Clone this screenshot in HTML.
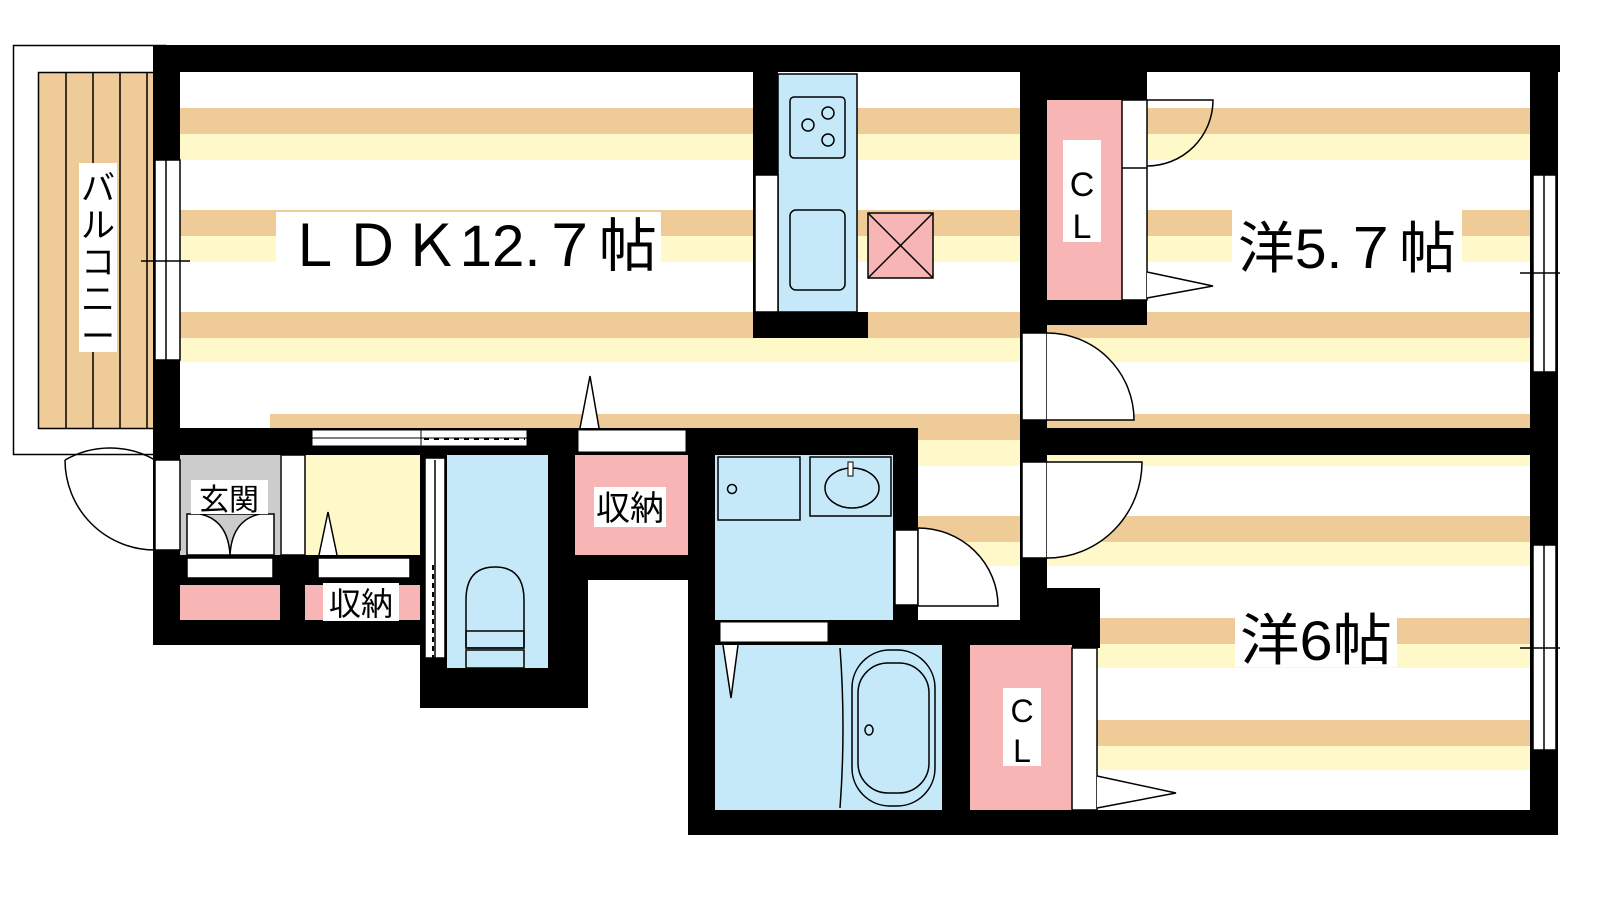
<!DOCTYPE html>
<html><head><meta charset="utf-8"><style>
html,body{margin:0;padding:0;background:#fff;}
svg{display:block}
text{font-family:"Liberation Sans","Noto Sans CJK JP",sans-serif;}
</style></head><body>
<svg width="1600" height="900" viewBox="0 0 1600 900" xmlns="http://www.w3.org/2000/svg">
<rect width="1600" height="900" fill="#fff"/>
<!-- stripes -->
<g>
<rect x="180" y="108" width="1350" height="26" fill="#EFCB97"/><rect x="180" y="134" width="1350" height="26" fill="#FFF8C8"/>
<rect x="180" y="210" width="1350" height="26" fill="#EFCB97"/><rect x="180" y="236" width="1350" height="26" fill="#FFF8C8"/>
<rect x="180" y="312" width="1350" height="26" fill="#EFCB97"/><rect x="180" y="338" width="1350" height="24" fill="#FFF8C8"/>
<rect x="270" y="414" width="1260" height="26" fill="#EFCB97"/>
<rect x="918" y="440" width="612" height="26" fill="#FFF8C8"/>
<rect x="918" y="516" width="612" height="26" fill="#EFCB97"/><rect x="918" y="542" width="612" height="24" fill="#FFF8C8"/>
<rect x="1097" y="618" width="433" height="26" fill="#EFCB97"/><rect x="1097" y="644" width="433" height="24" fill="#FFF8C8"/>
<rect x="1097" y="720" width="433" height="26" fill="#EFCB97"/><rect x="1097" y="746" width="433" height="24" fill="#FFF8C8"/>
</g>
<!-- balcony -->
<rect x="13.5" y="45.5" width="152" height="409" fill="#fff" stroke="#000" stroke-width="1.5"/>
<rect x="38.5" y="72.5" width="118" height="356" fill="#EFCB97" stroke="#000" stroke-width="1.5"/>
<g stroke="#000" stroke-width="1.5"><line x1="66" y1="72" x2="66" y2="428"/><line x1="93" y1="72" x2="93" y2="428"/><line x1="120" y1="72" x2="120" y2="428"/><line x1="147" y1="72" x2="147" y2="428"/></g>
<rect x="79" y="163" width="38" height="189" fill="#fff"/>
<text x="98" y="200" font-size="34" text-anchor="middle">バ</text>
<text x="98" y="237" font-size="34" text-anchor="middle">ル</text>
<text x="98" y="274" font-size="34" text-anchor="middle">コ</text>
<text x="98" y="311" font-size="34" text-anchor="middle">ニ</text>
<text x="98" y="348" font-size="34" text-anchor="middle">ー</text>
<!-- outer walls -->
<g fill="#000">
<rect x="153" y="45" width="1407" height="27"/>
<rect x="1530" y="45" width="28" height="790"/>
<rect x="153" y="45" width="27" height="600"/>
<rect x="153" y="428" width="765" height="27"/>
<rect x="1020" y="72" width="127" height="28"/>
<rect x="1020" y="72" width="27" height="553"/>
<rect x="1020" y="300" width="127" height="25"/>
<rect x="1020" y="428" width="538" height="27"/>
<rect x="1020" y="588" width="80" height="37"/>
<rect x="918" y="620" width="182" height="28"/>
<rect x="688" y="810" width="870" height="25"/>
<rect x="688" y="428" width="27" height="407"/>
<rect x="893" y="428" width="25" height="192"/>
<rect x="715" y="620" width="255" height="25"/>
<rect x="942" y="620" width="28" height="215"/>
<rect x="153" y="555" width="267" height="90"/>
<rect x="420" y="455" width="155" height="253"/>
<rect x="548" y="428" width="40" height="280"/>
<rect x="575" y="428" width="113" height="152"/>
<rect x="753" y="72" width="25" height="266"/>
<rect x="753" y="312" width="115" height="26"/>
</g>
<!-- LDK window left -->
<rect x="155" y="160" width="25" height="200" fill="#fff" stroke="#000" stroke-width="1.5"/>
<line x1="166" y1="160" x2="166" y2="360" stroke="#000" stroke-width="1.5"/>
<line x1="141" y1="261" x2="190" y2="261" stroke="#000" stroke-width="1.5"/>
<!-- LDK label -->
<rect x="276" y="212" width="385" height="62" fill="#fff"/>
<text x="285" y="266" font-size="58" textLength="372" lengthAdjust="spacingAndGlyphs">ＬＤＫ12.７帖</text>
<!-- kitchen -->
<rect x="778" y="74" width="79" height="238" fill="#C5E9F8" stroke="#000" stroke-width="1.5"/>
<rect x="755" y="175" width="23" height="137" fill="#fff" stroke="#000" stroke-width="1.5"/>
<rect x="790" y="97" width="55" height="61" rx="4" fill="none" stroke="#000" stroke-width="1.5"/>
<g fill="none" stroke="#000" stroke-width="1.5"><circle cx="808" cy="125" r="6"/><circle cx="828" cy="113" r="6"/><circle cx="828" cy="140" r="6"/></g>
<rect x="790" y="210" width="55" height="80" rx="6" fill="none" stroke="#000" stroke-width="1.5"/>
<rect x="868" y="213" width="65" height="65" fill="#F8B5B5" stroke="#000" stroke-width="1.5"/>
<path d="M868 213L933 278M933 213L868 278" stroke="#000" stroke-width="1.5"/>
<!-- sliding doors LDK bottom -->
<rect x="312" y="430" width="215" height="16" fill="#fff" stroke="#000" stroke-width="1"/>
<line x1="312" y1="438" x2="527" y2="438" stroke="#000"/>
<line x1="421" y1="430" x2="421" y2="446" stroke="#000"/>
<line x1="424" y1="439" x2="525" y2="439" stroke="#000" stroke-width="2" stroke-dasharray="5,5"/>
<rect x="578" y="430" width="108" height="22" fill="#fff" stroke="#000" stroke-width="1"/>
<path d="M580 428L590 376L599 428" fill="#fff" stroke="#000" stroke-width="1.5"/>
<!-- entrance -->
<rect x="180" y="455" width="100" height="100" fill="#ccc"/>
<rect x="180" y="455" width="100" height="100" fill="#ccc"/>
<rect x="305" y="455" width="115" height="100" fill="#FFF8C8"/>
<rect x="281" y="455" width="24" height="100" fill="#fff" stroke="#000" stroke-width="1.5"/>
<rect x="187" y="514" width="87" height="41" fill="#fff" stroke="#000" stroke-width="1.5"/>
<path d="M200 514Q228 520 230 555Q232 520 260 514Z" fill="#ccc" stroke="#000" stroke-width="1.5"/>
<rect x="191" y="480" width="77" height="34" fill="#fff"/>
<text x="229" y="510" font-size="30" text-anchor="middle">玄関</text>
<rect x="187" y="558" width="86" height="20" fill="#fff" stroke="#000" stroke-width="1.5"/>
<rect x="180" y="585" width="100" height="35" fill="#F8B5B5"/>
<rect x="318" y="558" width="92" height="20" fill="#fff" stroke="#000" stroke-width="1.5"/>
<path d="M319 555L328 512L337 555" fill="#fff" stroke="#000" stroke-width="1.5"/>
<rect x="305" y="585" width="115" height="35" fill="#F8B5B5"/>
<rect x="323" y="583" width="76" height="38" fill="#fff"/>
<text x="361" y="615" font-size="32" text-anchor="middle">収納</text>
<!-- entrance door -->
<rect x="155" y="460" width="25" height="90" fill="#fff" stroke="#000" stroke-width="1.5"/>
<path d="M155 460A90 90 0 0 0 65 460M155 550A90 90 0 0 1 65 460" fill="none" stroke="#000" stroke-width="1.5"/>
<!-- toilet -->
<rect x="447" y="455" width="101" height="213" fill="#C5E9F8"/>
<rect x="425" y="458" width="20" height="200" fill="#fff" stroke="#000" stroke-width="1.5"/>
<line x1="435" y1="460" x2="435" y2="658" stroke="#000" stroke-width="1.5"/>
<line x1="433" y1="565" x2="433" y2="658" stroke="#000" stroke-width="2" stroke-dasharray="5,4"/>
<path d="M466 648L466 600Q466 567 495 567Q524 567 524 600L524 648Z" fill="none" stroke="#000" stroke-width="1.5"/>
<rect x="466" y="631" width="58" height="17" fill="none" stroke="#000" stroke-width="1.5"/>
<rect x="466" y="650" width="58" height="18" fill="none" stroke="#000" stroke-width="1.5"/>
<!-- storage center -->
<rect x="575" y="455" width="113" height="100" fill="#F8B5B5"/>
<rect x="594" y="487" width="72" height="40" fill="#fff"/>
<text x="630" y="520" font-size="34" text-anchor="middle">収納</text>
<!-- washroom -->
<rect x="715" y="455" width="178" height="165" fill="#C5E9F8"/>
<rect x="718" y="457" width="82" height="63" fill="none" stroke="#000" stroke-width="1.5"/>
<circle cx="732" cy="489" r="4.5" fill="none" stroke="#000" stroke-width="1.5"/>
<rect x="810" y="457" width="81" height="59" fill="none" stroke="#000" stroke-width="1.5"/>
<ellipse cx="852" cy="488" rx="27" ry="20" fill="none" stroke="#000" stroke-width="1.5"/>
<rect x="848" y="462" width="5" height="14" fill="#fff" stroke="#000"/>
<rect x="895" y="530" width="23" height="75" fill="#fff" stroke="#000" stroke-width="1.5"/>
<path d="M918 528A80 78 0 0 1 998 606L918 606Z" fill="#fff" stroke="#000" stroke-width="1.5"/>
<rect x="720" y="622" width="108" height="20" fill="#fff" stroke="#000" stroke-width="1"/>
<!-- bath -->
<rect x="715" y="645" width="227" height="165" fill="#C5E9F8"/>
<path d="M723 645L731 698L738 645" fill="#fff" stroke="#000" stroke-width="1.5"/>
<path d="M840 648Q846 728 840 808" fill="none" stroke="#000" stroke-width="1.5"/>
<rect x="852" y="650" width="83" height="156" rx="38" fill="none" stroke="#000" stroke-width="1.5"/>
<rect x="858" y="663" width="71" height="130" rx="30" fill="none" stroke="#000" stroke-width="1.5"/>
<ellipse cx="869" cy="730" rx="4" ry="5" fill="none" stroke="#000" stroke-width="1.5"/>
<!-- CL top -->
<rect x="1047" y="100" width="75" height="200" fill="#F8B5B5"/>
<rect x="1122" y="100" width="25" height="200" fill="#fff" stroke="#000" stroke-width="1.5"/>
<line x1="1122" y1="168" x2="1147" y2="168" stroke="#000" stroke-width="1.5"/>
<path d="M1147 100L1213 100A66 66 0 0 1 1147 166" fill="none" stroke="#000" stroke-width="1.5"/>
<path d="M1147 272L1213 286L1147 298" fill="#fff" stroke="#000" stroke-width="1.5"/>
<rect x="1063" y="140" width="38" height="102" fill="#fff"/>
<text x="1082" y="196" font-size="34" text-anchor="middle">C</text>
<text x="1082" y="238" font-size="34" text-anchor="middle">L</text>
<!-- 5.7 room -->
<rect x="1232" y="210" width="230" height="66" fill="#fff"/>
<text x="1238" y="268" font-size="56" textLength="218" lengthAdjust="spacingAndGlyphs">洋5.７帖</text>
<rect x="1022" y="333" width="25" height="87" fill="#fff" stroke="#000" stroke-width="1.5"/>
<path d="M1047 333A87 87 0 0 1 1134 420L1047 420" fill="#fff" stroke="#000" stroke-width="1.5"/>
<!-- right windows -->
<rect x="1533" y="175" width="23" height="197" fill="#fff" stroke="#000" stroke-width="1.5"/>
<line x1="1544" y1="175" x2="1544" y2="372" stroke="#000" stroke-width="1.5"/>
<line x1="1520" y1="273" x2="1560" y2="273" stroke="#000" stroke-width="1.5"/>
<rect x="1533" y="545" width="23" height="205" fill="#fff" stroke="#000" stroke-width="1.5"/>
<line x1="1544" y1="545" x2="1544" y2="750" stroke="#000" stroke-width="1.5"/>
<line x1="1520" y1="648" x2="1560" y2="648" stroke="#000" stroke-width="1.5"/>
<!-- 6 room -->
<rect x="1022" y="462" width="25" height="96" fill="#fff" stroke="#000" stroke-width="1.5"/>
<path d="M1047 462L1142 462A95 96 0 0 1 1047 558" fill="#fff" stroke="#000" stroke-width="1.5"/>
<rect x="1235" y="605" width="162" height="62" fill="#fff"/>
<text x="1240" y="660" font-size="56" textLength="152" lengthAdjust="spacingAndGlyphs">洋6帖</text>
<!-- CL bottom -->
<rect x="970" y="645" width="102" height="165" fill="#F8B5B5"/>
<rect x="1072" y="648" width="25" height="162" fill="#fff" stroke="#000" stroke-width="1.5"/>
<path d="M1097 776L1176 793L1097 808" fill="#fff" stroke="#000" stroke-width="1.5"/>
<rect x="1003" y="688" width="38" height="78" fill="#fff"/>
<text x="1022" y="722" font-size="32" text-anchor="middle">C</text>
<text x="1022" y="762" font-size="32" text-anchor="middle">L</text>
</svg>
</body></html>
